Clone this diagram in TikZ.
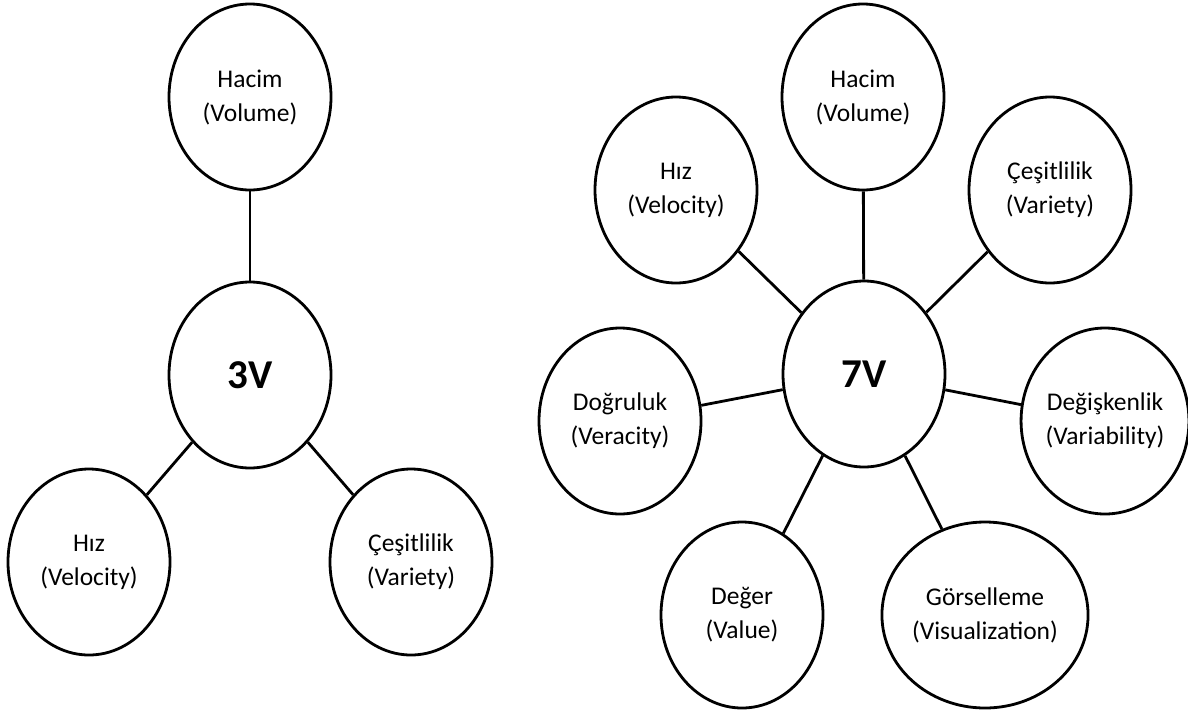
\documentclass[tikz,border=0pt]{standalone}
\usepackage{fontspec}
\setmainfont{Carlito}
\usetikzlibrary{shapes.geometric}
\begin{document}
\begin{tikzpicture}[x=1pt,y=-1pt,
  vbubble/.style={draw=black, line width=2.8pt, ellipse, inner sep=0pt,
    minimum width=162pt, minimum height=186pt, align=center,
    font=\fontsize{25.5}{34}\selectfont},
  hub/.style={vbubble, font=\fontsize{41}{44}\selectfont\bfseries},
  link/.style={draw=black, line width=2.8pt}]
\useasboundingbox (0,0) rectangle (1188,715);

% 3V model
\node[hub]     (c3)   at (250,375) {3V};
\node[vbubble] (l3h)  at (250,97)  {Hacim\\(Volume)};
\node[vbubble] (l3v)  at (89,562)  {Hız\\(Velocity)};
\node[vbubble] (l3c)  at (411,562) {Çeşitlilik\\(Variety)};
\draw[link] (c3) -- (l3h);
\draw[link] (c3) -- (l3v);
\draw[link] (c3) -- (l3c);

% 7V model
\node[hub]     (c7)   at (864,374) {7V};
\node[vbubble] (r7h)  at (863,97)  {Hacim\\(Volume)};
\node[vbubble] (r7v)  at (676,190) {Hız\\(Velocity)};
\node[vbubble] (r7c)  at (1050,190) {Çeşitlilik\\(Variety)};
\node[vbubble] (r7d)  at (620,421) {Doğruluk\\(Veracity)};
\node[vbubble] (r7k)  at (1105,421) {Değişkenlik\\(Variability)};
\node[vbubble] (r7e)  at (742,615) {Değer\\(Value)};
\node[vbubble] (r7g)  at (985,615) {Görselleme\\(Visualization)};
\foreach \n in {r7h,r7v,r7c,r7d,r7k,r7e,r7g}
  \draw[link] (c7) -- (\n);
\end{tikzpicture}
\end{document}
